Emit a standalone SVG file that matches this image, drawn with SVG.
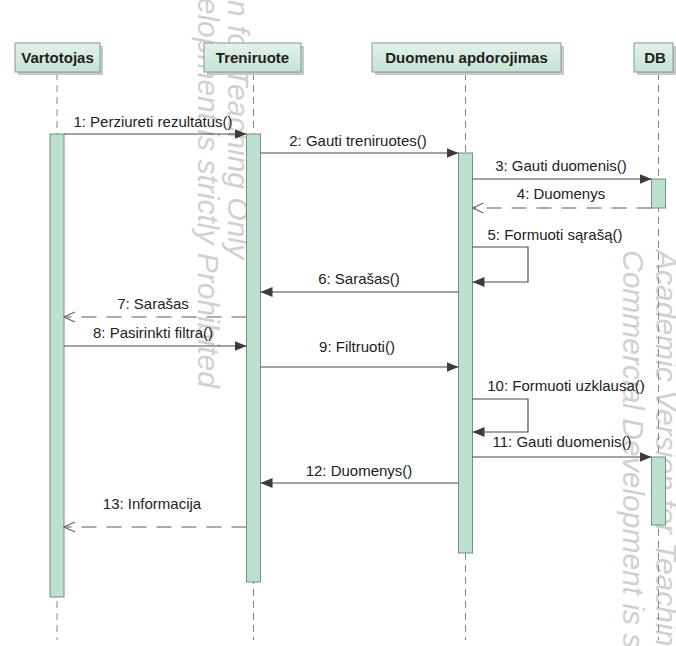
<svg xmlns="http://www.w3.org/2000/svg" width="676" height="646" viewBox="0 0 676 646">
<style>
.wm{font-family:"Liberation Sans",Arial,sans-serif;font-style:italic;font-size:30px;fill:#d0d0d0}
.hd{fill:url(#hg);stroke:#7f9c8e;stroke-width:1}
.sh{fill:#c9c9c9}
.ht{font-family:"Liberation Sans",Arial,sans-serif;font-weight:bold;font-size:15px;fill:#1e1e1e;text-anchor:middle}
.ll{stroke:#8a8a8a;stroke-width:1;stroke-dasharray:7,5;fill:none}
.act{fill:#bde0cf;stroke:#71927f;stroke-width:1}
.msg{stroke:#4a4a4a;stroke-width:1.2;fill:none;marker-end:url(#solid)}
.ret{stroke:#5a5a5a;stroke-width:1.2;fill:none;stroke-dasharray:15,10;marker-end:url(#open)}
.lb{font-family:"Liberation Sans",Arial,sans-serif;font-size:15px;fill:#222;text-anchor:middle}
</style>
<defs>
<linearGradient id="hg" x1="0" y1="0" x2="0" y2="1">
<stop offset="0" stop-color="#e3f2ea"/>
<stop offset="1" stop-color="#c6e3d5"/>
</linearGradient>
<marker id="solid" markerWidth="13" markerHeight="10" refX="12" refY="5" orient="auto" markerUnits="userSpaceOnUse">
<path d="M0,0 L12,5 L0,10 z" fill="#3c3c3c"/>
</marker>
<marker id="open" markerWidth="13" markerHeight="12" refX="12" refY="6" orient="auto" markerUnits="userSpaceOnUse">
<path d="M1,1 L12,6 L1,11" fill="none" stroke="#666" stroke-width="1.2"/>
</marker>
</defs>
<rect width="676" height="646" fill="#ffffff"/>
<g id="watermark">
<text class="wm" transform="translate(228,-224) rotate(90)">Academic Version for Teaching Only</text>
<text class="wm" transform="translate(198,-224) rotate(90)">Commercial Development is strictly Prohibited</text>
<text class="wm" transform="translate(656,250) rotate(90)">Academic Version for Teaching Only</text>
<text class="wm" transform="translate(623,250) rotate(90)">Commercial Development is strictly Prohibited</text>
</g>
<g id="vartotojas">
<line class="ll" x1="57" y1="73" x2="57" y2="640"/>
<rect class="sh" x="18" y="46" width="85" height="29"/>
<rect class="hd" x="15" y="43" width="85" height="29"/>
<text class="ht" x="57.5" y="63">Vartotojas</text>
<rect class="act" x="50" y="134" width="14" height="463"/>
</g>
<g id="treniruote">
<line class="ll" x1="253.5" y1="73" x2="253.5" y2="640"/>
<rect class="sh" x="207" y="46" width="97" height="29"/>
<rect class="hd" x="204" y="43" width="97" height="29"/>
<text class="ht" x="252.5" y="63">Treniruote</text>
<rect class="act" x="246.5" y="134" width="14" height="448"/>
</g>
<g id="duomenu">
<line class="ll" x1="465.5" y1="73" x2="465.5" y2="640"/>
<rect class="sh" x="375" y="46" width="189" height="29"/>
<rect class="hd" x="372" y="43" width="189" height="29"/>
<text class="ht" x="466.5" y="63">Duomenu apdorojimas</text>
<rect class="act" x="458.5" y="153" width="14" height="400"/>
</g>
<g id="db">
<line class="ll" x1="658.5" y1="73" x2="658.5" y2="640"/>
<rect class="sh" x="637" y="46" width="39" height="29"/>
<rect class="hd" x="634" y="43" width="39" height="29"/>
<text class="ht" x="655" y="63">DB</text>
<rect class="act" x="651.5" y="179" width="14" height="29"/>
<rect class="act" x="651.5" y="457" width="14" height="68"/>
</g>
<g id="connectors">
<line class="msg" x1="64" y1="134" x2="246.5" y2="134"/>
<text class="lb" x="153" y="127">1: Perziureti rezultatus()</text>
<line class="msg" x1="260.5" y1="153" x2="458.5" y2="153"/>
<text class="lb" x="358" y="146">2: Gauti treniruotes()</text>
<line class="msg" x1="472.5" y1="179" x2="651.5" y2="179"/>
<text class="lb" x="561" y="171">3: Gauti duomenis()</text>
<line class="ret" x1="651.5" y1="208" x2="472.5" y2="208"/>
<text class="lb" x="561" y="199">4: Duomenys</text>
<path class="msg" d="M472.5,247 H528 V282 H472.5"/>
<text class="lb" x="555" y="240">5: Formuoti sąrašą()</text>
<line class="msg" x1="458.5" y1="292" x2="260.5" y2="292"/>
<text class="lb" x="359" y="284">6: Sarašas()</text>
<line class="ret" x1="246.5" y1="317" x2="64" y2="317"/>
<text class="lb" x="153" y="309">7: Sarašas</text>
<line class="msg" x1="64" y1="346" x2="246.5" y2="346"/>
<text class="lb" x="153" y="338">8: Pasirinkti filtra()</text>
<line class="msg" x1="260.5" y1="367" x2="458.5" y2="367"/>
<text class="lb" x="357" y="352">9: Filtruoti()</text>
<path class="msg" d="M472.5,399 H528 V432 H472.5"/>
<text class="lb" x="566" y="391">10: Formuoti uzklausa()</text>
<line class="msg" x1="472.5" y1="457" x2="651.5" y2="457"/>
<text class="lb" x="562" y="447">11: Gauti duomenis()</text>
<line class="msg" x1="458.5" y1="483" x2="260.5" y2="483"/>
<text class="lb" x="359" y="476">12: Duomenys()</text>
<line class="ret" x1="246.5" y1="527" x2="64" y2="527"/>
<text class="lb" x="152" y="509">13: Informacija</text>
</g>
</svg>
